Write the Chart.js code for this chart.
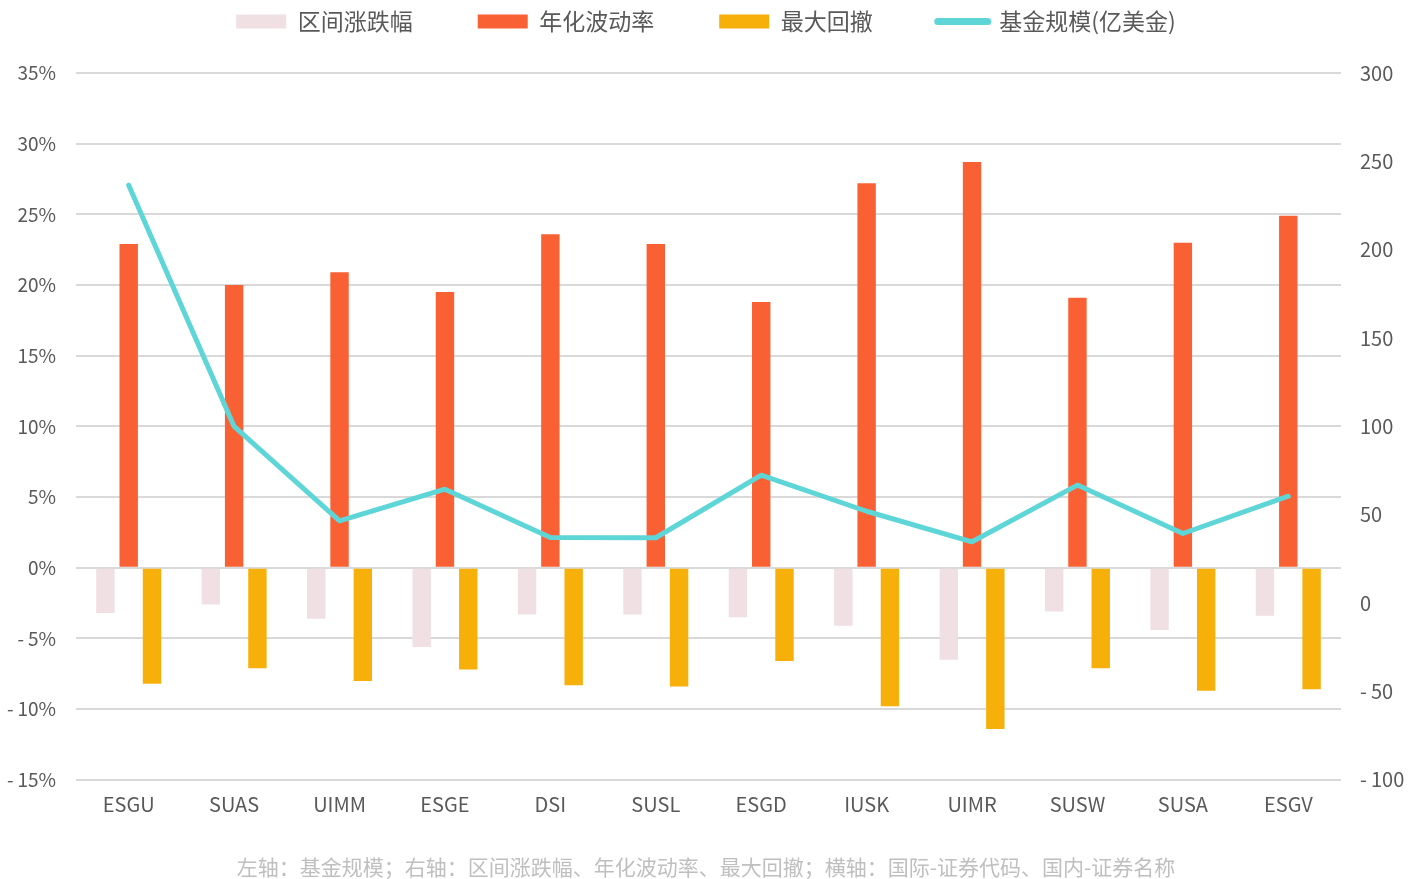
<!DOCTYPE html>
<html>
<head>
<meta charset="utf-8">
<script src="https://cdn.jsdelivr.net/npm/chart.js"></script>
<style>
  html, body { margin: 0; padding: 0; background: #fff; }
  #wrap { width: 1412px; height: 879px; }
</style>
</head>
<body>
<div id="wrap"><canvas id="fundChart" width="1412" height="879"></canvas></div>
<script>
// data
const categories = ['ESGU', 'SUAS', 'UIMM', 'ESGE', 'DSI', 'SUSL', 'ESGD', 'IUSK', 'UIMR', 'SUSW', 'SUSA', 'ESGV'];
const periodReturn = [-3.2, -2.6, -3.6, -5.6, -3.3, -3.3, -3.5, -4.1, -6.5, -3.1, -4.4, -3.4];
const annualVol = [22.9, 20.0, 20.9, 19.5, 23.6, 22.9, 18.8, 27.2, 28.7, 19.1, 23.0, 24.9];
const maxDrawdown = [-8.2, -7.1, -8.0, -7.2, -8.3, -8.4, -6.6, -9.8, -11.4, -7.1, -8.7, -8.6];
const fundSize = [236.5, 100, 46.6, 64.5, 37.2, 37.0, 72.4, 52.0, 34.7, 66.8, 39.4, 60.5];

const FONT = "'Noto Sans CJK SC', 'Noto Sans', sans-serif";
const TEXT = '#595959';

const fmtNeg = v => (v < 0 ? '-\u2009' + Math.abs(v) : String(v));

// keep the legend strip 73px tall and pull its row up to the top
const legendTweak = {
  id: 'legendTweak',
  beforeInit(chart) {
    const legend = chart.legend;
    if (!legend) return;
    const fit = legend.fit;
    legend.fit = function () {
      fit.call(this);
      this.height = 73;
    };
    legend.draw = function () {
      if (!this.options.display) return;
      const ctx = this.ctx;
      ctx.save();
      ctx.translate(0, -55);
      this._draw();
      ctx.restore();
    };
  }
};

new Chart(document.getElementById('fundChart'), {
  data: {
    labels: categories,
    datasets: [
      {
        type: 'bar',
        label: '区间涨跌幅',
        data: periodReturn,
        backgroundColor: '#F0DFE3',
        yAxisID: 'y',
        order: 1
      },
      {
        type: 'bar',
        label: '年化波动率',
        data: annualVol,
        backgroundColor: '#F96034',
        yAxisID: 'y',
        order: 1
      },
      {
        type: 'bar',
        label: '最大回撤',
        data: maxDrawdown,
        backgroundColor: '#F7B00A',
        yAxisID: 'y',
        order: 1
      },
      {
        type: 'line',
        label: '基金规模(亿美金)',
        data: fundSize,
        borderColor: '#5ED5D6',
        backgroundColor: '#5ED5D6',
        borderWidth: 5,
        pointRadius: 0,
        tension: 0,
        borderCapStyle: 'round',
        borderJoinStyle: 'round',
        yAxisID: 'y1',
        order: 0
      }
    ]
  },
  options: {
    responsive: false,
    animation: false,
    devicePixelRatio: 1,
    layout: { padding: 0 },
    datasets: {
      bar: { categoryPercentage: 0.663, barPercentage: 0.79, borderWidth: 0 }
    },
    plugins: {
      legend: {
        position: 'top',
        labels: {
          font: { family: FONT, size: 23 },
          color: TEXT,
          padding: 65,
          boxWidth: 50,
          boxHeight: 14,
          usePointStyle: true,
          pointStyleWidth: 50,
          sort: (a, b) => a.datasetIndex - b.datasetIndex,
          generateLabels(chart) {
            const items = Chart.defaults.plugins.legend.labels.generateLabels(chart);
            return items.map(item => {
              const ds = chart.data.datasets[item.datasetIndex];
              if (ds.type === 'line') {
                item.pointStyle = 'line';
                item.lineWidth = 7;
                item.lineCap = 'round';
                item.strokeStyle = ds.borderColor;
              } else {
                item.pointStyle = 'rect';
                item.lineWidth = 0;
                item.fillStyle = ds.backgroundColor;
              }
              return item;
            });
          }
        }
      },
      title: {
        display: true,
        position: 'bottom',
        text: '左轴：基金规模；右轴：区间涨跌幅、年化波动率、最大回撤；横轴：国际-证券代码、国内-证券名称',
        color: '#BFBFBF',
        font: { family: FONT, size: 21, weight: 'normal', lineHeight: 1.15 },
        padding: { top: 0, bottom: 0 }
      },
      tooltip: { enabled: false }
    },
    scales: {
      x: {
        grid: { display: false, drawTicks: false },
        border: { display: false },
        ticks: { color: TEXT, font: { family: FONT, size: 20 }, padding: 13 },
        afterFit(scale) { scale.height = 75; }
      },
      y: {
        position: 'left',
        min: -15,
        max: 35,
        grid: { color: '#D9D9D9', lineWidth: 2, drawTicks: false },
        border: { display: false },
        ticks: {
          stepSize: 5,
          color: TEXT,
          font: { family: FONT, size: 19 },
          padding: 20,
          callback: v => fmtNeg(v) + '%'
        },
        afterFit(scale) { scale.width = 76; }
      },
      y1: {
        position: 'right',
        min: -100,
        max: 300,
        grid: { display: false, drawTicks: false },
        border: { display: false },
        ticks: {
          stepSize: 50,
          color: TEXT,
          font: { family: FONT, size: 20 },
          padding: 19,
          callback: v => fmtNeg(v)
        },
        afterFit(scale) { scale.width = 71; }
      }
    }
  },
  plugins: [legendTweak]
});
</script>
</body>
</html>
